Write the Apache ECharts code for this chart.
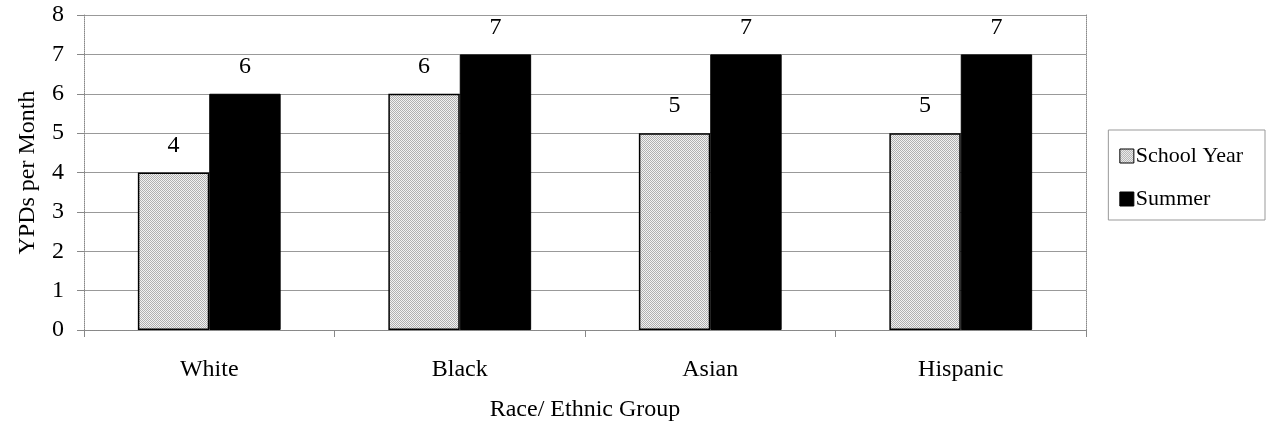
<!DOCTYPE html>
<html><head><meta charset="utf-8">
<script src="https://cdn.jsdelivr.net/npm/echarts@6/dist/echarts.min.js"></script>
<style>html,body{margin:0;padding:0;background:#fff}#c{width:1273px;height:432px}</style>
</head><body><div id="c"></div>
<script>
const categories = ['White', 'Black', 'Asian', 'Hispanic'];
const schoolYear = [4, 6, 5, 5];
const summer = [6, 7, 7, 7];
const yTicks = [0, 1, 2, 3, 4, 5, 6, 7, 8];
const seriesNames = ['School Year', 'Summer'];

const FONT = '"Liberation Serif", "DejaVu Serif", serif';
// dotted fill pattern
const pc = document.createElement('canvas');
pc.width = 2; pc.height = 2;
const px = pc.getContext('2d');
px.fillStyle = '#f2f2f2'; px.fillRect(0,0,2,2);
px.fillStyle = '#b0b0b0'; px.fillRect(0,0,1,1); px.fillRect(1,1,1,1);
const pattern = { image: pc, repeat: 'repeat' };

const chart = echarts.init(document.getElementById('c'), null, {renderer: 'canvas'});
const lbl = { show: true, position: 'top', distance: 15, color: '#000', fontFamily: FONT, fontSize: 24 };
chart.setOption({
  animation: false,
  backgroundColor: '#fff',
  grid: { left: 84, right: 187, top: 15, bottom: 102, containLabel: false },
  legend: {
    orient: 'vertical', right: 8, top: 130,
    padding: [15, 22, 10, 11], itemGap: 21,
    borderColor: '#999', borderWidth: 1,
    itemWidth: 14, itemHeight: 14, itemStyle: { borderColor: '#000', borderWidth: 1 },
    textStyle: { fontFamily: FONT, fontSize: 22, color: '#000', padding: [0,0,0,-3] },
    data: seriesNames.map(n => ({ name: n, icon: 'rect' }))
  },
  xAxis: [{
    type: 'category', data: categories, position: 'bottom',
    name: 'Race/ Ethnic Group', nameLocation: 'middle', nameGap: 68,
    nameTextStyle: { fontFamily: FONT, fontSize: 24, color: '#000' },
    axisLine: { lineStyle: { color: '#888', type: 'dotted', width: 1 } },
    axisTick: { show: true, length: 7, lineStyle: { color: '#888' } },
    axisLabel: { fontFamily: FONT, fontSize: 24, color: '#000', margin: 28 },
    splitLine: { show: false }
  }, {
    type: 'category', data: categories, position: 'top',
    axisLine: { lineStyle: { color: '#888', type: 'dotted', width: 1 } },
    axisTick: { show: false }, axisLabel: { show: false }
  }],
  yAxis: [{
    type: 'value', min: 0, max: 8, interval: 1,
    name: 'YPDs per Month', nameLocation: 'middle', nameGap: 44,
    nameTextStyle: { fontFamily: FONT, fontSize: 24, color: '#000' },
    axisLine: { show: true, lineStyle: { color: '#888', type: 'dotted', width: 1 } },
    axisTick: { show: true, length: 7, lineStyle: { color: '#888' } },
    axisLabel: { fontFamily: FONT, fontSize: 24, color: '#000', margin: 20,
      formatter: v => yTicks.includes(v) ? String(v) : '' },
    splitLine: { show: true, lineStyle: { color: '#999', width: 1 } }
  }, {
    type: 'value', min: 0, max: 8, interval: 1, position: 'right',
    axisLine: { show: true, lineStyle: { color: '#888', type: 'dotted', width: 1 } },
    axisTick: { show: false }, axisLabel: { show: false }, splitLine: { show: false }
  }],
  series: [{
    name: seriesNames[0], type: 'bar', data: schoolYear,
    barGap: '0%', barCategoryGap: '43%',
    itemStyle: { color: pattern, borderColor: '#000', borderWidth: 1.5 },
    label: lbl
  }, {
    name: seriesNames[1], type: 'bar', data: summer,
    barGap: '0%', barCategoryGap: '43%',
    itemStyle: { color: '#000', borderColor: '#000', borderWidth: 1 },
    label: lbl
  }]
});
</script></body></html>
